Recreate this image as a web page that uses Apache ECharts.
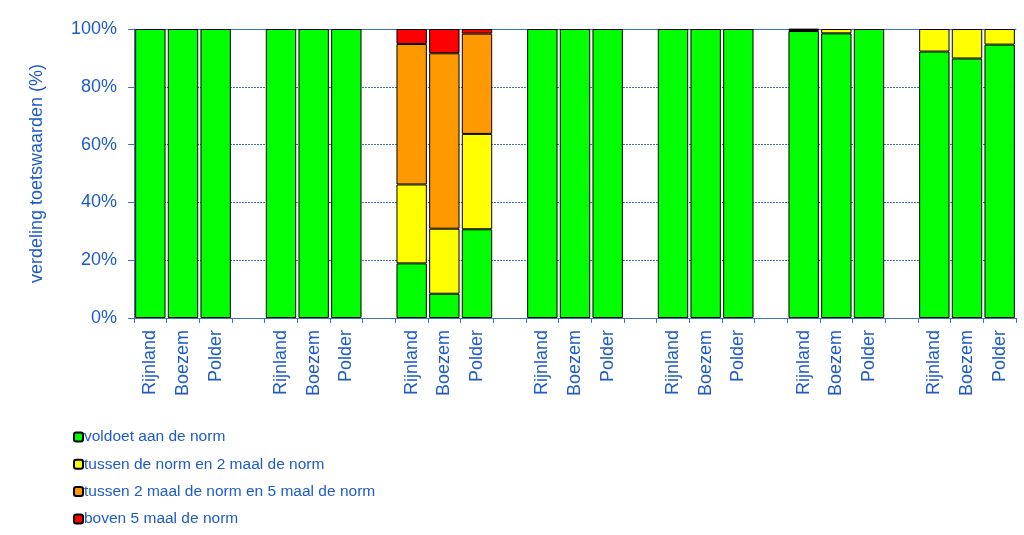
<!DOCTYPE html>
<html>
<head>
<meta charset="utf-8">
<script src="https://cdn.jsdelivr.net/npm/echarts@6/dist/echarts.min.js"></script>
<style>html,body{margin:0;padding:0;background:#fff;}#c{width:1024px;height:535px;}</style>
</head>
<body>
<div id="c"></div>
<script>
const categories = [
  'Rijnland','Boezem','Polder','',
  'Rijnland','Boezem','Polder','',
  'Rijnland','Boezem','Polder','',
  'Rijnland','Boezem','Polder','',
  'Rijnland','Boezem','Polder','',
  'Rijnland','Boezem','Polder','',
  'Rijnland','Boezem','Polder'
];
const seriesNames = [
  'voldoet aan de norm',
  'tussen de norm en 2 maal de norm',
  'tussen 2 maal de norm en 5 maal de norm',
  'boven 5 maal de norm'
];
const voldoet = [100,100,100,'-', 100,100,100,'-', 18.9,8.4,30.7,'-', 100,100,100,'-', 100,100,100,'-', 99.3,98.5,100,'-', 92.2,89.8,94.6];
const tussen1_2 = ['-','-','-','-', '-','-','-','-', 27.3,22.5,33.0,'-', '-','-','-','-', '-','-','-','-', 0.5,1.5,'-','-', 7.8,10.2,5.4];
const tussen2_5 = ['-','-','-','-', '-','-','-','-', 48.6,60.7,34.7,'-', '-','-','-','-', '-','-','-','-', 0.2,'-','-','-', '-','-','-'];
const boven5 = ['-','-','-','-', '-','-','-','-', 5.2,8.4,1.6,'-', '-','-','-','-', '-','-','-','-', '-','-','-','-', '-','-','-'];
const yTicks = [0,20,40,60,80,100];
const colors = ['#00FF00','#FFFF00','#FF9900','#FF0000'];

const txt = '#1F5BC6';
const axisCol = '#3C6FC8';
const font = 'Liberation Sans, Arial, sans-serif';
const dataSets = [voldoet, tussen1_2, tussen2_5, boven5];

const chart = echarts.init(document.getElementById('c'));
chart.setOption({
  animation: false,
  backgroundColor: '#fff',
  textStyle: { fontFamily: font },
  grid: { left: 134, right: 8, top: 29, bottom: 217 },
  legend: {
    orient: 'vertical', left: 73, top: 429, padding: 0,
    itemWidth: 9, itemHeight: 9, itemGap: 11.3,
    textStyle: { color: txt, fontSize: 15.5, lineHeight: 16, fontFamily: font, padding: [0,0,0,-4] },
    data: seriesNames
  },
  xAxis: [{
    type: 'category', data: categories,
    axisLine: { show: true, lineStyle: { color: axisCol, width: 1 } },
    axisTick: { show: true, interval: 0, length: 5, lineStyle: { color: axisCol } },
    axisLabel: { interval: 0, rotate: 90, color: txt, fontSize: 18, margin: 12, fontFamily: font },
  }, {
    type: 'category', data: categories, position: 'top',
    axisLine: { show: true, lineStyle: { color: axisCol, width: 1 } },
    axisTick: { show: false }, axisLabel: { show: false }
  }],
  yAxis: {
    type: 'value', min: yTicks[0], max: yTicks[yTicks.length-1], interval: 20,
    name: 'verdeling toetswaarden (%)', nameLocation: 'middle', nameGap: 88,
    nameTextStyle: { color: txt, fontSize: 18, fontFamily: font },
    axisLine: { show: true, lineStyle: { color: axisCol, width: 1 } },
    axisTick: { show: true, length: 6, lineStyle: { color: axisCol } },
    axisLabel: { color: txt, fontSize: 18, margin: 17, formatter: '{value}%', fontFamily: font },
    splitLine: { show: true, lineStyle: { color: '#3C6FC8', type: [2,1], width: 1 } }
  },
  series: seriesNames.map((n, i) => ({
    name: n, type: 'bar', stack: 'total', data: dataSets[i],
    barCategoryGap: '7%',
    itemStyle: { color: colors[i], borderColor: '#000', borderWidth: 1 }
  }))
});
</script>
</body>
</html>
